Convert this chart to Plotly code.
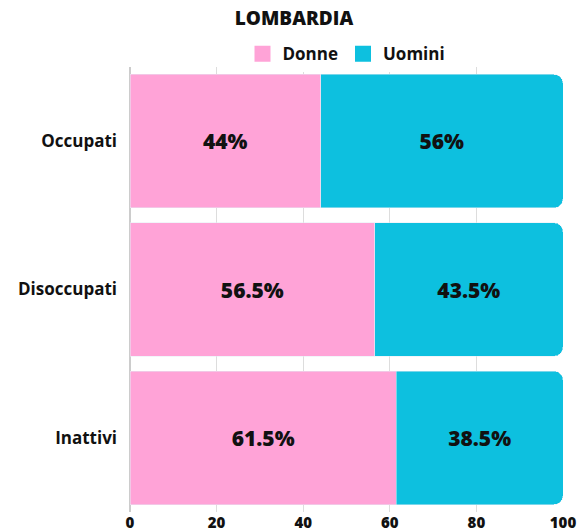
import plotly.graph_objects as go

categories = ['Occupati', 'Disoccupati', 'Inattivi']
donne = [44, 56.5, 61.5]
uomini = [56, 43.5, 38.5]
colors = {'Donne': '#ffa3d7', 'Uomini': '#0dc0df'}

font = 'Open Sans'

fig = go.Figure()
for name, vals in [('Donne', donne), ('Uomini', uomini)]:
    fig.add_bar(y=categories, x=vals, name=name, orientation='h',
                marker_color=colors[name], text=[f'{v:g}%' for v in vals],
                textposition='inside', insidetextanchor='middle', showlegend=False,
                textfont=dict(size=21, color='#111', family=font, weight=800))
    # legend entry with a bigger square swatch
    fig.add_scatter(x=[None], y=[None], mode='markers', name=name,
                    marker=dict(symbol='square', size=22, color=colors[name]))

fig.update_layout(
    width=588, height=532,
    barmode='stack', bargap=0.1, barcornerradius=9,
    plot_bgcolor='white', paper_bgcolor='white',
    font=dict(family=font, color='#111', size=16, weight='bold'),
    title=dict(text='LOMBARDIA', x=0.5, xanchor='center', y=0.978, yanchor='top',
               font=dict(size=19, family=font, weight=800, color='#111')),
    legend=dict(orientation='h', x=0.5, xanchor='center', y=1.029, yanchor='middle',
                font=dict(size=17, family=font, weight='bold'), itemwidth=30,
                traceorder='normal'),
    margin=dict(l=130, r=25, t=67, b=20),
    xaxis=dict(range=[0, 100], tickvals=[0, 20, 40, 60, 80, 100],
               showgrid=True, gridcolor='#dddddd', zeroline=True,
               zerolinecolor='#cccccc', ticks='', tickfont=dict(size=15, weight=800),
               ticklabelstandoff=0, automargin=False),
    yaxis=dict(autorange='reversed', ticks='', ticklabelstandoff=12,
               tickfont=dict(size=17), automargin=False),
)

fig.write_html('out.html', config={'displayModeBar': False},
               post_script="document.body.style.margin='0';")
